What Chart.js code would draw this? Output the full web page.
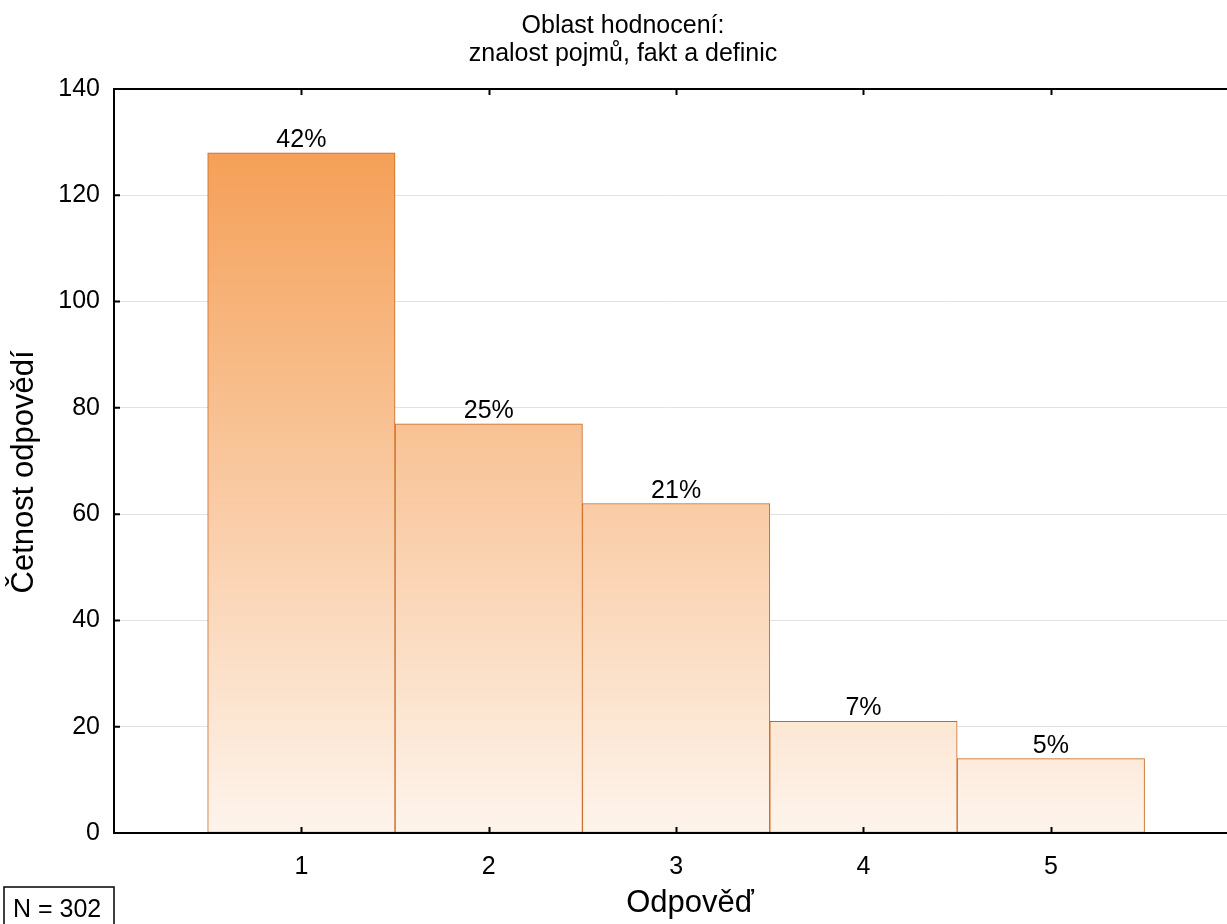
<!DOCTYPE html>
<html lang="cs">
<head>
<meta charset="utf-8">
<title>Oblast hodnocení: znalost pojmů, fakt a definic</title>
<script src="https://cdn.jsdelivr.net/npm/chart.js@4.4.1/dist/chart.umd.min.js"></script>
<style>
  html, body { margin: 0; padding: 0; background: #ffffff; }
  #wrap { width: 1227px; height: 924px; position: relative; }
</style>
</head>
<body>
<div id="wrap"><canvas id="chart" width="1227" height="924"></canvas></div>
<script>
// Response categories and how many answers fell into each
const categories = [1, 2, 3, 4, 5];
const counts = [128, 77, 62, 21, 14];
const yTicks = [0, 20, 40, 60, 80, 100, 120, 140];

const titleLines = ['Oblast hodnocení:', 'znalost pojmů, fakt a definic'];
const xTitle = 'Odpověď';
const yTitle = 'Četnost odpovědí';

const total = counts.reduce((a, b) => a + b, 0);
const percentLabels = counts.map(c => Math.round(c / total * 100) + '%');

const FONT = '"Liberation Sans", Arial, Helvetica, sans-serif';
const FS = 25;       // tick labels, chart title, value labels
const FS_AXIS = 31;  // axis titles

let fillGradient = null;
let gradKey = '';
function barGradient(ctx) {
  const chart = ctx.chart;
  const area = chart.chartArea;
  if (!area) return '#f7b37a';
  const key = area.top + ':' + area.bottom;
  if (!fillGradient || gradKey !== key) {
    const g = chart.ctx.createLinearGradient(0, area.top, 0, area.bottom);
    g.addColorStop(0, '#f4984a');
    g.addColorStop(1, '#fef4ec');
    fillGradient = g;
    gradKey = key;
  }
  return fillGradient;
}

// Frame, inward ticks, titles, value labels and the N box
const decorations = {
  id: 'decorations',
  afterDatasetsDraw(chart) {
    const c = chart.ctx;
    const meta = chart.getDatasetMeta(0);
    c.save();
    c.fillStyle = '#000';
    c.font = FS + 'px ' + FONT;
    c.textAlign = 'center';
    c.textBaseline = 'alphabetic';
    meta.data.forEach((bar, i) => {
      c.fillText(percentLabels[i], bar.x, bar.y - 6);
    });
    c.restore();
  },
  afterDraw(chart) {
    const c = chart.ctx;
    const a = chart.chartArea;
    const xs = chart.scales.x;
    const ys = chart.scales.y;
    c.save();
    c.strokeStyle = '#000';
    c.lineWidth = 2;
    c.beginPath();
    c.moveTo(a.left, a.top); c.lineTo(a.right, a.top);
    c.moveTo(a.left, a.top - 1); c.lineTo(a.left, a.bottom + 1);
    c.moveTo(a.left - 1, a.bottom); c.lineTo(a.right, a.bottom);
    const tl = 6;
    categories.forEach(v => {
      const px = Math.round(xs.getPixelForValue(v)) + 0.5;
      c.moveTo(px, a.bottom); c.lineTo(px, a.bottom - tl);
      c.moveTo(px, a.top); c.lineTo(px, a.top + tl);
    });
    yTicks.forEach(v => {
      const py = ys.getPixelForValue(v);
      c.moveTo(a.left, py); c.lineTo(a.left + tl, py);
    });
    c.stroke();

    c.fillStyle = '#000';
    c.textAlign = 'center';
    c.textBaseline = 'alphabetic';
    c.font = FS + 'px ' + FONT;
    c.fillText(titleLines[0], 623, 33);
    c.fillText(titleLines[1], 623, 61);

    c.font = FS_AXIS + 'px ' + FONT;
    c.fillText(xTitle, 690, 912);
    c.save();
    c.translate(33, 472);
    c.rotate(-Math.PI / 2);
    c.fillText(yTitle, 0, 0);
    c.restore();

    // sample size box
    c.font = FS + 'px ' + FONT;
    c.lineWidth = 1.5;
    c.strokeRect(4, 887, 110, 42);
    c.textAlign = 'left';
    c.fillText('N = ' + total, 13, 917);
    c.restore();
  }
};

new Chart(document.getElementById('chart'), {
  type: 'bar',
  data: {
    datasets: [{
      data: categories.map((x, i) => ({ x: x, y: counts[i] })),
      backgroundColor: barGradient,
      borderColor: '#c9661f',
      borderWidth: 1,
      borderSkipped: false,
      barPercentage: 1,
      categoryPercentage: 1
    }]
  },
  options: {
    responsive: false,
    animation: false,
    events: [],
    layout: { padding: { top: 89, right: 0, bottom: 0, left: 0 } },
    plugins: {
      legend: { display: false },
      title: { display: false },
      tooltip: { enabled: false }
    },
    scales: {
      x: {
        type: 'linear',
        offset: false,
        min: 0,
        max: 5.94,
        afterFit(scale) { scale.height = 91; },
        afterBuildTicks(scale) { scale.ticks = categories.map(v => ({ value: v })); },
        grid: { display: false, drawTicks: false, offset: false },
        border: { display: false },
        ticks: {
          color: '#000',
          font: { family: FONT, size: FS },
          padding: 19,
          maxRotation: 0,
          autoSkip: false,
          callback: v => String(v)
        }
      },
      y: {
        type: 'linear',
        min: 0,
        max: 140,
        afterFit(scale) { scale.width = 114; },
        afterBuildTicks(scale) { scale.ticks = yTicks.map(v => ({ value: v })); },
        grid: {
          drawTicks: false,
          color: ctx => (ctx.tick && (ctx.tick.value === 0 || ctx.tick.value === 140)) ? 'rgba(0,0,0,0)' : '#e2e2e2',
          lineWidth: 1
        },
        border: { display: false },
        ticks: {
          color: '#000',
          font: { family: FONT, size: FS },
          padding: 14,
          autoSkip: false,
          callback: v => String(v)
        }
      }
    }
  },
  plugins: [decorations]
});
</script>
</body>
</html>
